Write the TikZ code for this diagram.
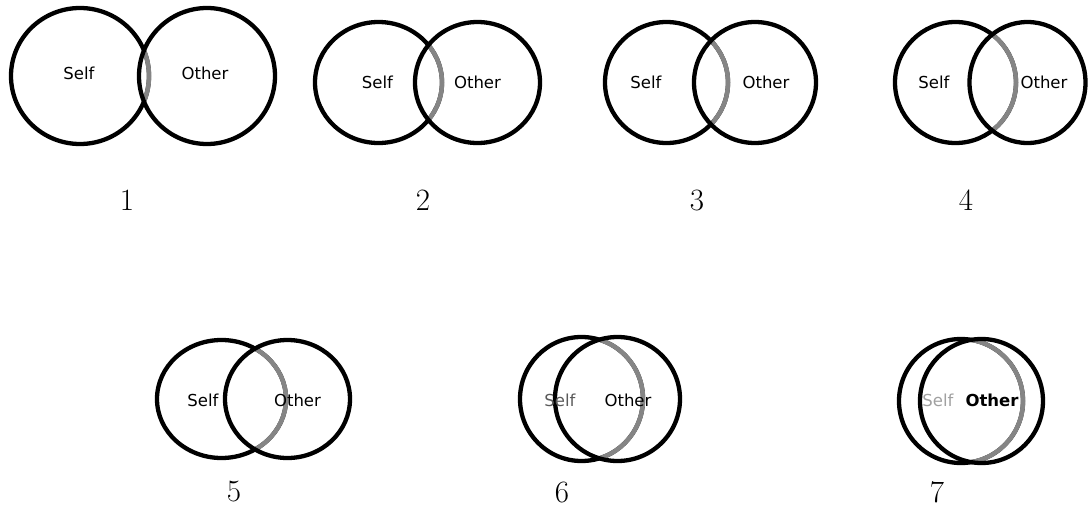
\documentclass[tikz,border=0pt]{standalone}
\usepackage{fontspec}
\setsansfont{DejaVu Sans}
\usepackage{tikz}
\usetikzlibrary{positioning}
\definecolor{cArc}  {HTML}{858585}
\definecolor{cDim}  {HTML}{5A5A5A}
\definecolor{cPale} {HTML}{A0A0A0}
\tikzset{
  ring/.style={draw=black, line width=4.3pt},
  overlaparc/.style={draw=cArc, line width=4.5pt},
  selftext/.style={font=\sffamily\fontsize{16.5}{16.5}\selectfont, inner sep=0pt, text=black},
  selftext dim/.style={selftext, text=cDim},
  selftext pale/.style={selftext, text=cPale},
  othertext/.style={font=\sffamily\fontsize{16.5}{16.5}\selectfont, inner sep=0pt},
  othertext bold/.style={othertext, font=\sffamily\bfseries\fontsize{16.5}{16.5}\selectfont},
  numlabel/.style={font=\fontsize{31}{31}\selectfont, inner sep=0pt},
}
\begin{document}
\begin{tikzpicture}[x=1pt, y=-1pt]
  \useasboundingbox (0,0) rectangle (1088,509);
  % panel / self x / other x / centre y / radii / label x,y / number x,y / label styles
  \foreach \n/\sx/\ox/\cy/\srx/\orx/\ry/\tsx/\tox/\ty/\nx/\ny/\ss/\os in {
      1/80/207/76/69/68/68/79/205/73/127/200/selftext/othertext,
      2/378.5/477.5/82.5/63.5/62.5/60.5/377.5/477.5/82/423/200/selftext/othertext,
      3/666.5/755/82.5/61.5/61/60.5/646/766/82/697/200/selftext/othertext,
      4/955.5/1027.5/82.5/60.5/58/60.5/934/1044/82/966/200/selftext/othertext,
      5/221.5/287.5/399/64.5/62.5/59/203/297.5/400/234/492/selftext/othertext,
      6/581.5/617.5/399/61.5/62.5/62/560/628/400/562/492/selftext dim/othertext,
      7/961/981.5/401/62/61.5/62/938/992/400/937/492/selftext pale/othertext bold}{
    \coordinate (s\n) at (\sx,\cy);
    \coordinate (o\n) at (\ox,\cy);
    \draw[ring] (s\n) ellipse[x radius=\srx pt, y radius=\ry pt];
    \begin{scope}
      \clip (o\n) ellipse[x radius=\orx pt, y radius=\ry pt];
      \draw[overlaparc] (s\n) ellipse[x radius=\srx pt, y radius=\ry pt];
    \end{scope}
    \draw[ring] (o\n) ellipse[x radius=\orx pt, y radius=\ry pt];
    \node[\ss] (self\n) at (\tsx,\ty) {Self};
    \node[\os] (other\n) at (\tox,\ty) {Other};
    \node[numlabel] (num\n) at (\nx,\ny) {\n};
  }
\end{tikzpicture}
\end{document}
